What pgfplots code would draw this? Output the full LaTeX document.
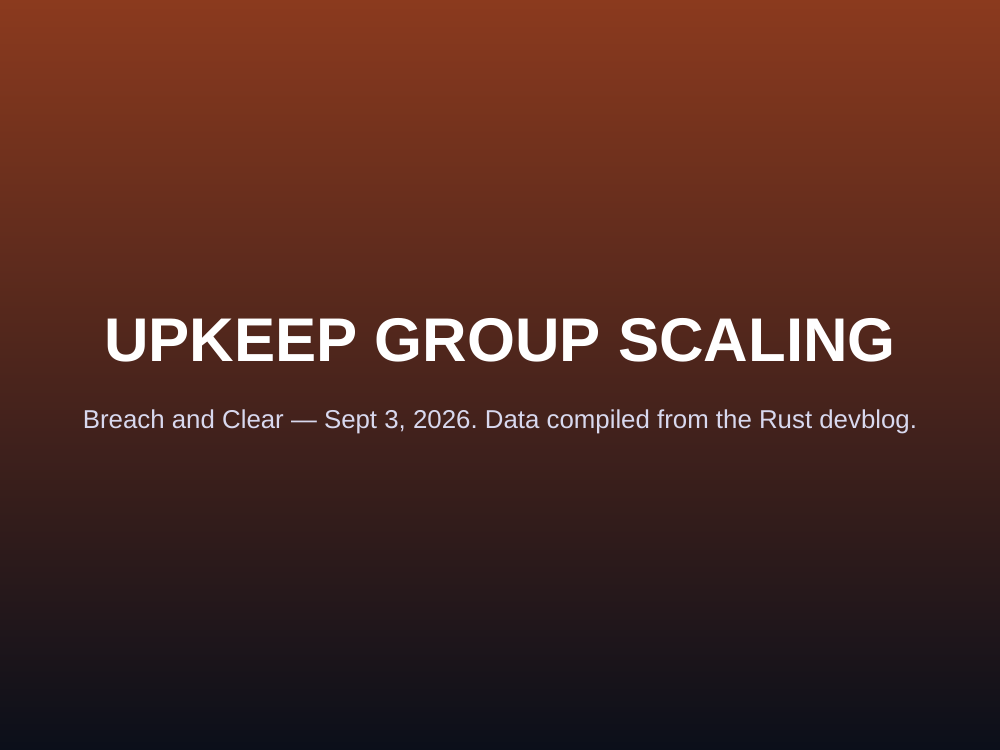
\documentclass[border=0pt]{standalone}
\usepackage{pgfplots}
\pgfplotsset{compat=1.18}
\usepackage{fontspec}
\setmainfont{Liberation Sans}
\frenchspacing
\definecolor{bgtop}{HTML}{8B3A1E}
\definecolor{bgmid}{HTML}{42241F}
\definecolor{bgbot}{HTML}{0B0F1A}
\definecolor{subtxt}{HTML}{D8D8EE}
\begin{document}
\begin{tikzpicture}
  \begin{axis}[
    hide axis,
    scale only axis,
    width=20cm, height=15cm,
    xmin=0, xmax=1000, ymin=0, ymax=750,
    clip=false,
  ]
    % background gradient, top to bottom
    \shade[top color=bgtop, middle color=bgmid, bottom color=bgbot]
      (axis cs:0,0) rectangle (axis cs:1000,750);
    \node[font=\fontsize{35.1}{40}\selectfont\bfseries, text=white]
      at (axis cs:500,410) {UPKEEP GROUP SCALING};
    \node[font=\fontsize{14.7}{17}\selectfont, text=subtxt]
      at (axis cs:500,328) {Breach and Clear — Sept 3, 2026. Data compiled from the Rust devblog.};
  \end{axis}
\end{tikzpicture}
\end{document}
